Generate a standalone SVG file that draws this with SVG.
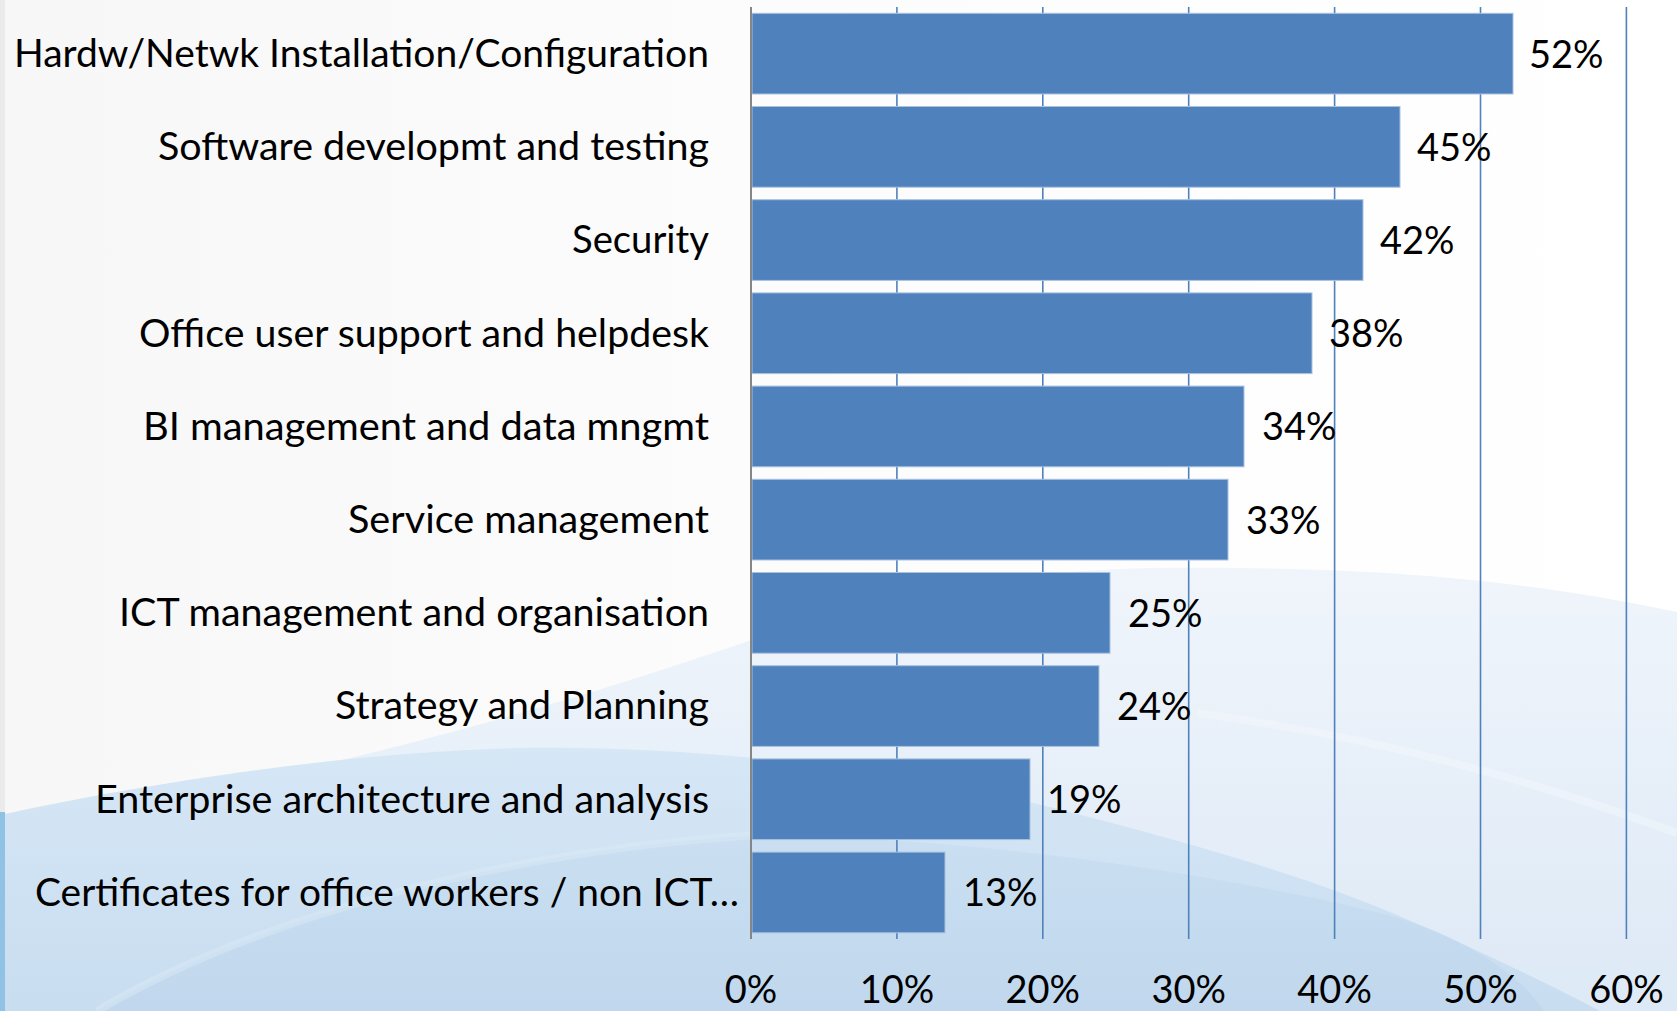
<svg xmlns="http://www.w3.org/2000/svg" width="1677" height="1011" viewBox="0 0 1677 1011">
<defs>
<style>
.lbl{font-family:Lato,"Open Sans","Liberation Sans",sans-serif;font-size:38px;fill:#000;text-anchor:end}
.val{font-family:Lato,"Open Sans","Liberation Sans",sans-serif;font-size:38px;fill:#000}
.tick{font-family:Lato,"Open Sans","Liberation Sans",sans-serif;font-size:38px;fill:#000;text-anchor:middle}
.bar{fill:#4f81bd;stroke:#a9c2df;stroke-width:1}
.grid{stroke:#4f81bd;stroke-width:1.6;fill:none}
.axis{stroke:#868686;stroke-width:2;fill:none}
</style>
<linearGradient id="bg0" x1="0" y1="0" x2="1" y2="0">
<stop offset="0" stop-color="#f7f7f7"/>
<stop offset="0.45" stop-color="#fcfcfc"/>
<stop offset="1" stop-color="#ffffff"/>
</linearGradient>
<linearGradient id="bgA" x1="0" y1="0" x2="0" y2="1">
<stop offset="0" stop-color="#f0f5fb"/>
<stop offset="1" stop-color="#dde9f6"/>
</linearGradient>
<linearGradient id="bgB" x1="0" y1="0" x2="0" y2="1">
<stop offset="0" stop-color="#d6e7f6"/>
<stop offset="1" stop-color="#c8ddf0"/>
</linearGradient>
<linearGradient id="bgC" x1="0" y1="0" x2="0" y2="1">
<stop offset="0" stop-color="#cadff1"/>
<stop offset="1" stop-color="#c0d7ed"/>
</linearGradient>
</defs>
<g id="background">
<rect x="0" y="0" width="1677" height="1011" fill="url(#bg0)"/>
<path d="M0,830 C200,795 450,745 760,637 C900,592 1000,572 1150,568 C1400,565 1550,585 1677,612 L1677,1011 L0,1011 Z" fill="url(#bgA)"/>
<path d="M1197,713 C1400,740 1560,790 1677,833" fill="none" stroke="#f6f9fd" stroke-width="8" opacity="0.4"/>
<path d="M0,815 C150,782 350,752 520,748 C700,745 900,770 1050,807 C1200,845 1320,880 1420,925 C1500,960 1560,990 1600,1011 L0,1011 Z" fill="url(#bgB)"/>
<path d="M97,1011 C250,920 500,850 760,835 C1000,838 1250,880 1395,917 C1470,940 1520,975 1544,1011 Z" fill="url(#bgC)"/>
<path d="M97,1011 C250,920 500,850 760,835" fill="none" stroke="#d9e9f6" stroke-width="8" opacity="0.5"/>
<rect x="0" y="0" width="5" height="812" fill="#ebebeb"/>
<rect x="0" y="812" width="5" height="199" fill="#8fc2e5"/>
</g>
<g id="gridlines">
<line class="grid" x1="896.9" y1="7" x2="896.9" y2="939"/>
<line class="grid" x1="1042.8" y1="7" x2="1042.8" y2="939"/>
<line class="grid" x1="1188.7" y1="7" x2="1188.7" y2="939"/>
<line class="grid" x1="1334.6" y1="7" x2="1334.6" y2="939"/>
<line class="grid" x1="1480.5" y1="7" x2="1480.5" y2="939"/>
<line class="grid" x1="1626.4" y1="7" x2="1626.4" y2="939"/>
</g>
<g id="bars">
<rect id="bar1" class="bar" x="752" y="13.3" width="761" height="80.7"/>
<rect id="bar2" class="bar" x="752" y="106.5" width="648" height="80.7"/>
<rect id="bar3" class="bar" x="752" y="199.7" width="611" height="80.7"/>
<rect id="bar4" class="bar" x="752" y="292.9" width="560" height="80.7"/>
<rect id="bar5" class="bar" x="752" y="386.1" width="492" height="80.7"/>
<rect id="bar6" class="bar" x="752" y="479.3" width="476" height="80.7"/>
<rect id="bar7" class="bar" x="752" y="572.5" width="358" height="80.7"/>
<rect id="bar8" class="bar" x="752" y="665.7" width="347" height="80.7"/>
<rect id="bar9" class="bar" x="752" y="758.9" width="278" height="80.7"/>
<rect id="bar10" class="bar" x="752" y="852.1" width="193" height="80.7"/>
</g>
<line id="axis" class="axis" x1="751" y1="7" x2="751" y2="939"/>
<g id="categories">
<text class="lbl" x="709" y="67" textLength="695" lengthAdjust="spacingAndGlyphs">Hardw/Netwk Installation/Configuration</text>
<text class="lbl" x="709" y="160.2" textLength="551" lengthAdjust="spacingAndGlyphs">Software developmt and testing</text>
<text class="lbl" x="709" y="253.4" textLength="137" lengthAdjust="spacingAndGlyphs">Security</text>
<text class="lbl" x="709" y="346.6" textLength="570" lengthAdjust="spacingAndGlyphs">Office user support and helpdesk</text>
<text class="lbl" x="709" y="439.8" textLength="566" lengthAdjust="spacingAndGlyphs">BI management and data mngmt</text>
<text class="lbl" x="709" y="533" textLength="361" lengthAdjust="spacingAndGlyphs">Service management</text>
<text class="lbl" x="709" y="626.2" textLength="590" lengthAdjust="spacingAndGlyphs">ICT management and organisation</text>
<text class="lbl" x="709" y="719.4" textLength="374" lengthAdjust="spacingAndGlyphs">Strategy and Planning</text>
<text class="lbl" x="709" y="812.6" textLength="614" lengthAdjust="spacingAndGlyphs">Enterprise architecture and analysis</text>
<text class="lbl" x="739" y="905.8" textLength="704" lengthAdjust="spacingAndGlyphs">Certificates for office workers / non ICT…</text>
</g>
<g id="values">
<text class="val" x="1529" y="67.5">52%</text>
<text class="val" x="1417" y="160.7">45%</text>
<text class="val" x="1380" y="253.9">42%</text>
<text class="val" x="1329" y="347.1">38%</text>
<text class="val" x="1262" y="440.3">34%</text>
<text class="val" x="1246" y="533.5">33%</text>
<text class="val" x="1128" y="626.7">25%</text>
<text class="val" x="1117" y="719.9">24%</text>
<text class="val" x="1047" y="813.1">19%</text>
<text class="val" x="963" y="906.3">13%</text>
</g>
<g id="ticks">
<text class="tick" x="751" y="1003">0%</text>
<text class="tick" x="896.9" y="1003">10%</text>
<text class="tick" x="1042.8" y="1003">20%</text>
<text class="tick" x="1188.7" y="1003">30%</text>
<text class="tick" x="1334.6" y="1003">40%</text>
<text class="tick" x="1480.5" y="1003">50%</text>
<text class="tick" x="1626.4" y="1003">60%</text>
</g>
</svg>
